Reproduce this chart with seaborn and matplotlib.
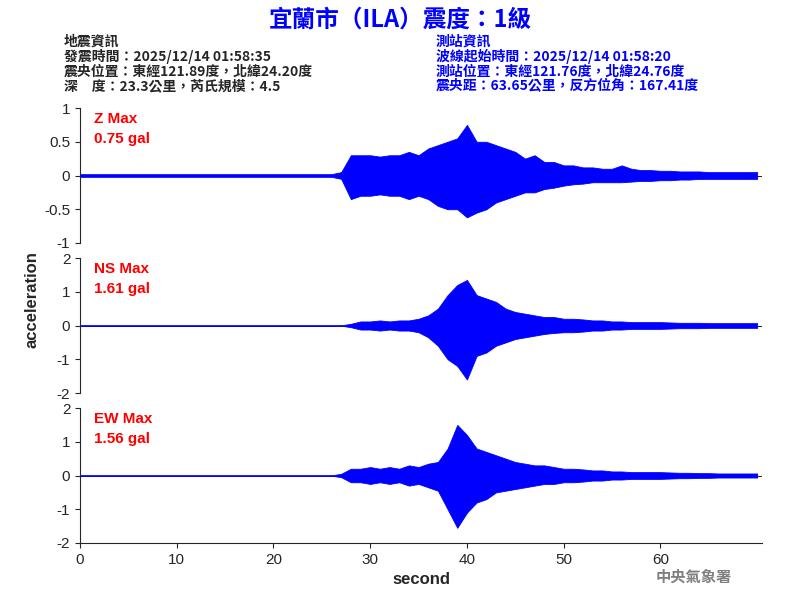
import numpy as np
import matplotlib.pyplot as plt
import seaborn as sns

# envelope (per-second peak positive / negative), t = 0..70 s
seconds = list(range(71))
z_pos = [0.02]*27 + [0.05, 0.3, 0.3, 0.3, 0.28, 0.3, 0.3, 0.35, 0.3, 0.4, 0.45, 0.5, 0.55,
         0.75, 0.5, 0.5, 0.45, 0.4, 0.35, 0.25, 0.3, 0.2, 0.2, 0.15, 0.15, 0.12, 0.12, 0.1,
         0.1, 0.15, 0.1, 0.08, 0.08, 0.07, 0.07, 0.06, 0.06, 0.06, 0.05, 0.05, 0.05, 0.05, 0.05]
z_neg = [-0.02]*27 + [-0.05, -0.35, -0.3, -0.3, -0.28, -0.3, -0.3, -0.35, -0.3, -0.35, -0.45, -0.5, -0.5,
         -0.62, -0.55, -0.5, -0.4, -0.35, -0.3, -0.25, -0.25, -0.2, -0.18, -0.15, -0.13, -0.12, -0.1, -0.1,
         -0.1, -0.1, -0.09, -0.08, -0.08, -0.07, -0.07, -0.06, -0.06, -0.05, -0.05, -0.05, -0.05, -0.05, -0.05]
ns_pos = [0.005]*28 + [0.05, 0.12, 0.12, 0.15, 0.12, 0.15, 0.15, 0.2, 0.3, 0.5, 0.9, 1.2,
          1.35, 0.9, 0.8, 0.7, 0.5, 0.4, 0.35, 0.3, 0.25, 0.25, 0.2, 0.2, 0.18, 0.15, 0.15,
          0.12, 0.12, 0.1, 0.1, 0.1, 0.1, 0.09, 0.08, 0.08, 0.08, 0.07, 0.07, 0.07, 0.07]
ns_neg = [-0.005]*28 + [-0.05, -0.12, -0.12, -0.15, -0.12, -0.15, -0.15, -0.2, -0.35, -0.6, -1.0, -1.2,
          -1.6, -0.9, -0.8, -0.6, -0.5, -0.4, -0.35, -0.3, -0.25, -0.22, -0.2, -0.2, -0.18, -0.15, -0.15,
          -0.12, -0.12, -0.1, -0.1, -0.1, -0.1, -0.09, -0.08, -0.08, -0.08, -0.07, -0.07, -0.07, -0.07]
ew_pos = [0.005]*27 + [0.05, 0.2, 0.2, 0.25, 0.2, 0.25, 0.2, 0.3, 0.25, 0.35, 0.4, 0.8, 1.5,
          1.2, 0.8, 0.7, 0.6, 0.5, 0.4, 0.35, 0.3, 0.3, 0.25, 0.2, 0.2, 0.18, 0.15, 0.15,
          0.12, 0.12, 0.1, 0.1, 0.1, 0.1, 0.09, 0.08, 0.08, 0.07, 0.07, 0.06, 0.06, 0.06]
ew_neg = [-0.005]*27 + [-0.05, -0.2, -0.2, -0.25, -0.2, -0.25, -0.2, -0.3, -0.25, -0.35, -0.45, -1.0, -1.55,
          -1.1, -0.8, -0.7, -0.5, -0.45, -0.4, -0.35, -0.3, -0.25, -0.25, -0.2, -0.2, -0.18, -0.15, -0.15,
          -0.12, -0.12, -0.1, -0.1, -0.1, -0.1, -0.09, -0.08, -0.08, -0.07, -0.07, -0.06, -0.06, -0.06]

components = ['Z', 'NS', 'EW']
max_gal = ['0.75', '1.61', '1.56']
ylims = [1, 2, 2]
envelopes = [(z_pos, z_neg), (ns_pos, ns_neg), (ew_pos, ew_neg)]


def fit(vals):
    # keep the coda tail flat out to the end of the record
    vals = list(vals)[:len(seconds)]
    return vals + [vals[-1]] * (len(seconds) - len(vals))


sns.set_style('ticks')
plt.rcParams['font.family'] = ['Liberation Sans', 'DejaVu Sans']
cjk = ['Noto Sans CJK TC', 'DejaVu Sans']

fig = plt.figure(figsize=(8, 6), dpi=100)
bottoms = [0.595, 0.345, 0.095]
for i, comp in enumerate(components):
    ax = fig.add_axes([0.1, bottoms[i], 0.8525, 0.225])
    pos, neg = envelopes[i]
    ax.fill_between(seconds, fit(neg), fit(pos), color='blue', linewidth=0.6)
    ax.plot([0, 70.5], [0, 0], color='black', linewidth=0.6, zorder=0)
    lim = ylims[i]
    ax.set_ylim(-lim, lim)
    ax.set_xlim(0, 70.5)
    ax.set_yticks(np.arange(-lim, lim + 0.01, 0.5 if lim == 1 else 1))
    ax.set_yticklabels([f'{v:g}' for v in ax.get_yticks()], fontsize=11)
    sns.despine(ax=ax, right=True, top=True, bottom=(i < 2))
    if i < 2:
        ax.set_xticks([])
    else:
        ax.set_xticks(range(0, 70, 10))
        ax.tick_params(axis='x', labelsize=11)
        ax.set_xlabel('second', fontsize=12, fontweight='bold')
    ax.text(0.02, 0.97, f'{comp} Max\n{max_gal[i]} gal', transform=ax.transAxes, color='red',
            fontsize=11, fontweight='bold', va='top', linespacing=1.5)

fig.text(0.04, 0.5, 'acceleration', rotation=90, va='center', ha='center', fontsize=12, fontweight='bold')
fig.text(0.5, 0.968, '宜蘭市（ILA）震度：1級', ha='center', va='center', color='blue',
         fontsize=17, fontweight='bold', family=cjk)
left = '地震資訊\n發震時間：2025/12/14 01:58:35\n震央位置：東經121.89度，北緯24.20度\n深　度：23.3公里，芮氏規模：4.5'
right = '測站資訊\n波線起始時間：2025/12/14 01:58:20\n測站位置：東經121.76度，北緯24.76度\n震央距：63.65公里，反方位角：167.41度'
fig.text(0.08, 0.943, left, va='top', fontsize=10, family=cjk, linespacing=1.05, fontweight='bold')
fig.text(0.545, 0.943, right, va='top', fontsize=10, family=cjk, color='blue', linespacing=1.05,
         fontweight='bold')
fig.text(0.82, 0.03, '中央氣象署', color='gray', fontsize=11, fontweight='bold', family=cjk)

fig.savefig('out.png', dpi=100)
